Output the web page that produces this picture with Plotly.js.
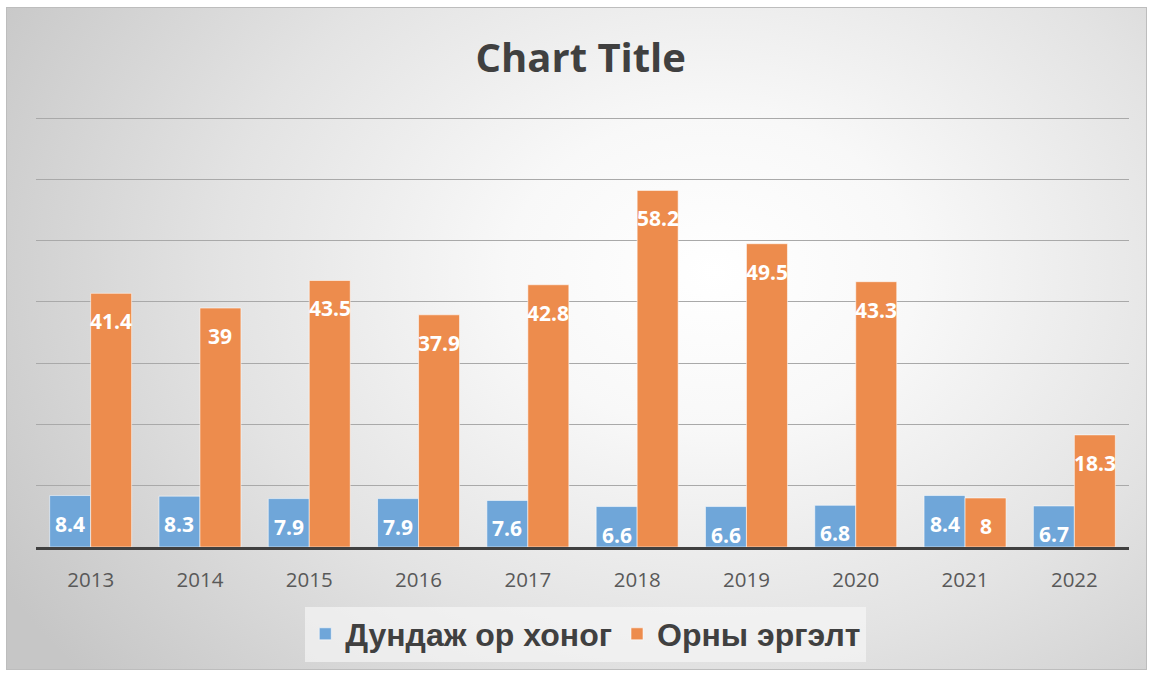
<!DOCTYPE html>
<html>
<head>
<meta charset="utf-8">
<script src="https://cdn.plot.ly/plotly-3.0.1.min.js"></script>
<style>
  html, body { margin: 0; padding: 0; background: #ffffff; }
  #bg {
    position: absolute; left: 6px; top: 7px; width: 1139px; height: 661px;
    border: 1px solid #bdbdbd;
    background: radial-gradient(ellipse 72% 95% at 62% 40%, #ffffff 0%, #f8f8f8 25%, #e3e3e3 60%, #c6c6c6 100%);
  }
  #chart { position: absolute; left: 0; top: 0; width: 1150px; height: 674px; }
</style>
</head>
<body>
<div id="bg"></div>
<div id="chart"></div>
<script>
const years = ['2013','2014','2015','2016','2017','2018','2019','2020','2021','2022'];
const seriesNames = ['Дундаж ор хоног', 'Орны эргэлт'];
const avgDays = [8.4, 8.3, 7.9, 7.9, 7.6, 6.6, 6.6, 6.8, 8.4, 6.7];
const bedTurnover = [41.4, 39, 43.5, 37.9, 42.8, 58.2, 49.5, 43.3, 8, 18.3];
const titleText = 'Chart Title';

const colors = ['rgb(111,166,217)', 'rgb(237,140,77)'];
const bargap = 0.25;
const seriesData = [avgDays, bedTurnover];

const traces = seriesData.map((vals, i) => ({
  type: 'bar',
  name: seriesNames[i],
  x: years,
  y: vals,
  marker: { color: colors[i], line: { color: 'rgba(255,255,255,0.55)', width: 1 } },
  hoverinfo: 'x+y+name'
}));

// data labels placed inside the bar top, like the original
const groupW = 1 - bargap;
const barW = groupW / seriesData.length;
const annotations = [];
seriesData.forEach((vals, i) => {
  const off = -groupW / 2 + barW * (i + 0.5);
  vals.forEach((v, j) => {
    annotations.push({
      xref: 'x', yref: 'y',
      x: j + off, y: v,
      text: String(v),
      showarrow: false,
      yanchor: 'top',
      yshift: -12,
      font: { family: 'Open Sans, sans-serif', size: 21, color: '#ffffff', weight: 'bold' }
    });
  });
});

const layout = {
  width: 1150, height: 674,
  paper_bgcolor: 'rgba(0,0,0,0)',
  plot_bgcolor: 'rgba(0,0,0,0)',
  margin: { l: 36, r: 21, t: 112, b: 125 },
  title: {
    text: '<b>' + titleText + '</b>',
    font: { family: 'Open Sans, sans-serif', size: 40, color: '#404040' },
    x: 0.505, xanchor: 'center',
    y: 1 - 58 / 674, yanchor: 'middle', yref: 'container'
  },
  barmode: 'group',
  bargap: bargap,
  bargroupgap: 0,
  xaxis: {
    type: 'category',
    showline: true, linecolor: '#404040', linewidth: 3,
    ticks: '', showgrid: false,
    tickfont: { family: 'Open Sans, sans-serif', size: 20.5, color: '#595959' },
    ticklabelstandoff: 12
  },
  yaxis: {
    range: [0, 71], tick0: 0, dtick: 10,
    showticklabels: false, showline: false, zeroline: false,
    gridcolor: '#a9a9a9', gridwidth: 1
  },
  showlegend: true,
  legend: {
    orientation: 'h',
    x: 0.503, xanchor: 'center',
    y: -0.2, yanchor: 'middle',
    bgcolor: 'rgba(248,248,248,0.65)',
    font: { family: 'Liberation Sans, Arial, sans-serif', size: 32, color: '#404040', weight: 'bold' },
    itemwidth: 30,
    traceorder: 'normal'
  },
  annotations: annotations
};

Plotly.newPlot('chart', traces, layout, { displayModeBar: false, staticPlot: true });
</script>
</body>
</html>
